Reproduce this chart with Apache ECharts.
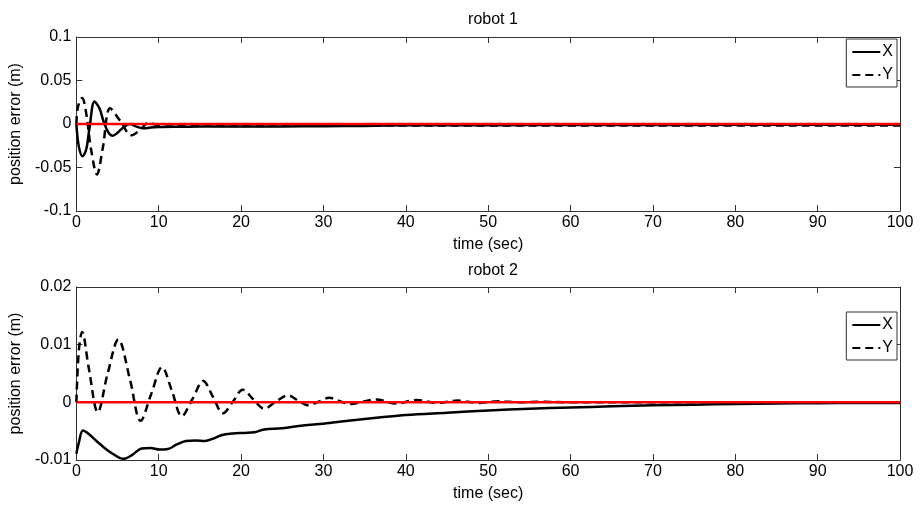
<!DOCTYPE html>
<html><head><meta charset="utf-8">
<script src="https://cdn.jsdelivr.net/npm/echarts@6/dist/echarts.min.js"></script>
<style>html,body{margin:0;padding:0;background:#fff}#c{width:920px;height:506px}</style>
</head><body><div id="c"></div><script>
// ---- data ----
const titles = ['robot 1', 'robot 2'];
const xTicks = [0, 10, 20, 30, 40, 50, 60, 70, 80, 90, 100];
const r1Ticks = [-0.1, -0.05, 0, 0.05, 0.1];
const r2Ticks = [-0.01, 0, 0.01, 0.02];

// robot 1, X (solid)
const r1X_t = [0, 0.3, 0.75, 1.2, 1.6, 2.2, 2.8, 3.3, 3.9, 4.4, 5.0, 5.7, 6.5, 7.3, 8.2, 9, 10, 12, 15, 20, 25, 30, 35, 40, 50, 60, 70, 80, 90, 100];
const r1X_v = [0, -0.026, -0.037, -0.029, -0.004, 0.026, 0.018, 0.003, -0.010, -0.0135, -0.010, -0.004, 0.000, -0.003, -0.005, -0.004, -0.0035, -0.0032, -0.003, -0.003, -0.0028, -0.0025, -0.0022, -0.0015, -0.0013, -0.0012, -0.0011, -0.001, -0.001, -0.001];
// robot 1, Y (dashed)
const r1Y_t = [0, 0.2, 0.7, 1.2, 1.8, 2.5, 3.2, 4.1, 5.3, 6.7, 7.8, 8.7, 9.7, 11, 13, 20, 30, 40, 50, 60, 70, 80, 90, 100];
const r1Y_v = [0, 0.020, 0.030, 0.012, -0.030, -0.058, -0.028, 0.018, 0.004, -0.013, -0.006, 0.001, -0.001, -0.003, -0.002, -0.0022, -0.002, -0.0017, -0.0016, -0.0016, -0.0016, -0.0016, -0.0016, -0.0016];

// robot 2, X (solid)
const r2X_t = [0, 0.3, 0.8, 1.5, 2.5, 3.5, 4.5, 5.7, 6.8, 7.9, 9, 10.1, 11.1, 12.2, 13.3, 14.5, 15.6, 16.6, 17.6, 19, 20.4, 21.6, 22.8, 25, 27.5, 30, 33, 37, 40, 45, 50, 55, 60, 65, 70, 75, 80, 85, 90, 95, 100];
const r2X_v = [-0.0089, -0.007, -0.0049, -0.0055, -0.0068, -0.008, -0.009, -0.0098, -0.0091, -0.0080, -0.0079, -0.0082, -0.0081, -0.0073, -0.0067, -0.0066, -0.0067, -0.0063, -0.0057, -0.0054, -0.0053, -0.0052, -0.0047, -0.0045, -0.0040, -0.0037, -0.0032, -0.0026, -0.0022, -0.0018, -0.0014, -0.0011, -0.0009, -0.0007, -0.0005, -0.0004, -0.0003, -0.0002, -0.00015, -0.0001, -0.0001];
// robot 2, Y (dashed)
const r2Y_t = [0, 0.3, 0.7, 1.5, 2.6, 3.8, 5.1, 6.5, 7.8, 9.1, 10.4, 11.6, 12.8, 14.1, 15.4, 16.6, 17.8, 19.0, 20.2, 21.5, 22.8, 24.2, 25.7, 26.9, 28.1, 29.4, 30.7, 32, 33.3, 34.8, 36.4, 38.8, 41.3, 43.8, 46.3, 48.8, 51.3, 53.8, 56.3, 60, 70, 80, 90, 100];
const r2Y_v = [0, 0.009, 0.0122, 0.006, -0.0017, 0.005, 0.0109, 0.004, -0.0032, 0.0015, 0.0061, 0.002, -0.0024, 0.0006, 0.0037, 0.0009, -0.0019, 0.0001, 0.0022, 0.0005, -0.0011, 0.0001, 0.0012, 0.0003, -0.0005, 0.0001, 0.0008, 0.0002, -0.0003, 0.0001, 0.0005, -0.0002, 0.0004, -0.0001, 0.0003, -0.0001, 0.0002, 0, 0.0001, 0, 0, 0, 0, 0];

// reference (zero) line
const ref_t = [0, 100];
const ref_v = [0, 0];

// ---- chart ----
const FONT = 'Liberation Sans, Arial, sans-serif';
const AX = '#333';
const zip = (t, v) => t.map((x, i) => [x, v[i]]);

const grids = [
  { left: 76, right: 20, top: 37, height: 174 },
  { left: 76, right: 20, top: 287, height: 173 }
];
const yTicksSets = [r1Ticks, r2Ticks];

const lineCfg = { show: true, onZero: false, lineStyle: { color: AX, width: 1 } };
const tickCfg = { show: true, inside: true, length: 6, lineStyle: { color: AX } };

const xAxes = [], yAxes = [];
grids.forEach((g, i) => {
  xAxes.push({
    type: 'value', gridIndex: i, min: xTicks[0], max: xTicks[xTicks.length - 1],
    interval: xTicks[1] - xTicks[0], position: 'bottom',
    name: 'time (sec)', nameLocation: 'middle', nameGap: 26,
    nameTextStyle: { fontFamily: FONT, fontSize: 16, color: '#000' },
    axisLine: lineCfg, axisTick: tickCfg,
    axisLabel: { fontFamily: FONT, fontSize: 16, color: '#000', margin: 4 },
    splitLine: { show: false }
  });
  xAxes.push({
    type: 'value', gridIndex: i, min: xTicks[0], max: xTicks[xTicks.length - 1],
    interval: xTicks[1] - xTicks[0], position: 'top',
    axisLine: lineCfg, axisTick: tickCfg,
    axisLabel: { show: false }, splitLine: { show: false }
  });
  const yt = yTicksSets[i];
  yAxes.push({
    type: 'value', gridIndex: i, min: yt[0], max: yt[yt.length - 1],
    interval: yt[1] - yt[0], position: 'left',
    name: 'position error (m)', nameLocation: 'middle', nameGap: 47, nameRotate: 90,
    nameTextStyle: { fontFamily: FONT, fontSize: 16, color: '#000' },
    axisLine: lineCfg, axisTick: tickCfg,
    axisLabel: { fontFamily: FONT, fontSize: 16, color: '#000', margin: 5,
      formatter: v => String(+v.toFixed(4)) },
    splitLine: { show: false }
  });
  yAxes.push({
    type: 'value', gridIndex: i, min: yt[0], max: yt[yt.length - 1],
    interval: yt[1] - yt[0], position: 'right',
    axisLine: lineCfg, axisTick: tickCfg,
    axisLabel: { show: false }, splitLine: { show: false }
  });
});

function lineSeries(name, data, gi, dashed) {
  return {
    name, type: 'line', data, xAxisIndex: gi * 2, yAxisIndex: gi * 2,
    symbol: 'none', smooth: 0.35, animation: false,
    lineStyle: { color: '#000', width: 2.5, type: dashed ? [8, 5] : 'solid' },
    itemStyle: { color: '#000' }, z: 3
  };
}
function refSeries(gi) {
  return {
    name: 'ref', type: 'line', data: zip(ref_t, ref_v), xAxisIndex: gi * 2, yAxisIndex: gi * 2,
    symbol: 'none', animation: false, silent: true,
    lineStyle: { color: '#ff0000', width: 2.5 }, z: 5
  };
}

const series = [
  lineSeries('X', zip(r1X_t, r1X_v), 0, false),
  lineSeries('Y', zip(r1Y_t, r1Y_v), 0, true),
  refSeries(0),
  lineSeries('X', zip(r2X_t, r2X_v), 1, false),
  lineSeries('Y', zip(r2Y_t, r2Y_v), 1, true),
  refSeries(1)
];

const legendBase = {
  orient: 'vertical', right: 23, data: ['X', 'Y'],
  itemWidth: 28, itemHeight: 12, itemGap: 7,
  backgroundColor: '#fff', borderColor: '#333', borderWidth: 1,
  padding: [5, 4, 4, 5], selectedMode: false,
  itemStyle: { opacity: 0, borderWidth: 0 },
  textStyle: { fontFamily: FONT, fontSize: 16, color: '#000', padding: [0, 0, 0, -3] }
};

const chart = echarts.init(document.getElementById('c'), null, { renderer: 'canvas' });
chart.setOption({
  backgroundColor: '#fff',
  animation: false,
  title: [
    { text: titles[0], left: 488, top: 7, textAlign: 'center',
      textStyle: { fontFamily: FONT, fontSize: 16, fontWeight: 'normal', color: '#000' } },
    { text: titles[1], left: 488, top: 258, textAlign: 'center',
      textStyle: { fontFamily: FONT, fontSize: 16, fontWeight: 'normal', color: '#000' } }
  ],
  legend: [
    Object.assign({}, legendBase, { top: 39 }),
    Object.assign({}, legendBase, { top: 312 })
  ],
  grid: grids,
  xAxis: xAxes,
  yAxis: yAxes,
  series
});
</script></body></html>
